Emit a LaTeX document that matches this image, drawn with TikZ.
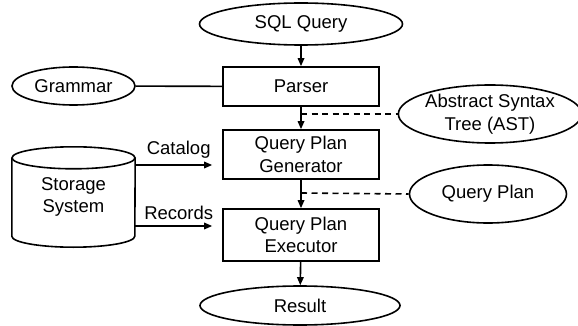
\documentclass[tikz,border=0pt]{standalone}
\usepackage{fontspec}
\setmainfont{Liberation Sans}
\usetikzlibrary{shapes.geometric,arrows.meta}
\begin{document}
\begin{tikzpicture}[x=1pt,y=1pt,
  every node/.style={font=\fontsize{18.5}{22.5}\selectfont, align=center, inner sep=0pt},
  ell/.style={draw, ellipse, line width=1.6pt},
  box/.style={draw, rectangle, line width=1.6pt, minimum width=156pt},
  arr/.style={line width=1.6pt, -{Triangle[length=8pt,width=6.5pt]}},
  conn/.style={line width=1.6pt},
  dash line/.style={line width=1.6pt, dash pattern=on 6pt off 4.5pt}]
\useasboundingbox (0,0) rectangle (578,-326);
\node[ell, minimum width=203pt, minimum height=42pt] (sql) at (301,-24) {SQL Query};
\node[box, minimum height=39pt] (parser) at (301,-86.5) {Parser};
\node[ell, minimum width=123pt, minimum height=38pt] (grammar) at (73.5,-86) {Grammar};
\node[ell, minimum width=165pt, minimum height=58pt] (ast) at (490,-114) {Abstract Syntax\\Tree (AST)};
\node[box, minimum height=49pt] (qpg) at (301,-154.5) {Query Plan\\Generator};
\node[box, minimum height=52pt] (qpe) at (301,-235) {Query Plan\\Executor};
\node[ell, minimum width=157pt, minimum height=58pt] (qp) at (488,-194) {Query Plan};
\node[ell, minimum width=200pt, minimum height=39pt] (result) at (300,-305.5) {Result};
\node[minimum width=123pt, minimum height=100pt] (st) at (73.5,-197) {Storage\\System};
\draw[conn] ([yshift=-11pt]st.north west) -- ([yshift=11pt]st.south west)
  arc[start angle=180, end angle=360, x radius=61.5pt, y radius=11pt]
  -- ([yshift=-11pt]st.north east);
\draw[conn] ([yshift=-11pt]st.north) ellipse[x radius=61.5pt, y radius=11pt];
\coordinate (astj) at (301,-114);
\coordinate (qpj) at (301,-193);
\draw[arr] (sql) -- (parser);
\draw[conn] (grammar) -- (parser);
\draw[arr] (parser) -- (qpg);
\draw[dash line] (astj) -- (ast.west);
\draw[arr] (qpg) -- (qpe);
\draw[dash line] (qpj) -- (qp.west);
\draw[arr] (qpe) -- (result);
\draw[arr, shorten >=10pt] (st.east |- 0,-165) -- node[above=6pt] {Catalog} (qpg.west |- 0,-165);
\draw[arr, shorten >=10pt] (st.east |- 0,-226) -- node[above=6pt] {Records} (qpe.west |- 0,-226);
\end{tikzpicture}
\end{document}
